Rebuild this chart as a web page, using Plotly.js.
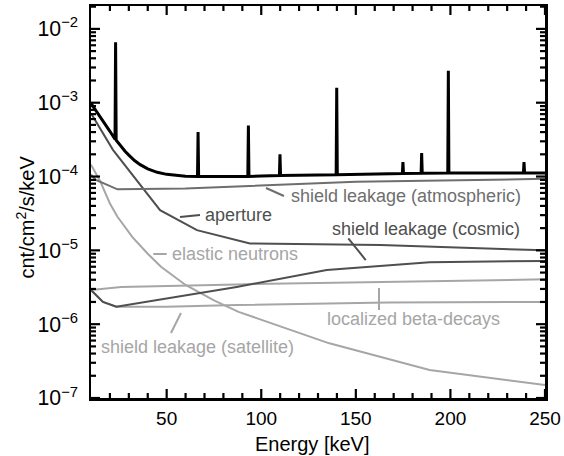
<!DOCTYPE html>
<html><head><meta charset="utf-8">
<script src="https://cdn.plot.ly/plotly-3.0.1.min.js"></script>
<style>html,body{margin:0;padding:0;background:#fff}</style>
</head><body><div id="chart" style="width:564px;height:456px"></div>
<script>
// ---- data ----
const totalE = [10, 14.7, 20, 22.7, 23, 23.3, 26, 28, 30, 33, 36, 40, 45, 50, 60, 66.3, 66.6, 66.9, 80, 92.9, 93.2, 93.5, 100, 109.6, 109.9, 110.2, 139.6, 139.9, 140.2, 160, 174.6, 174.9, 175.2, 184.5, 184.8, 185.1, 198.6, 198.9, 199.2, 220, 238.6, 238.9, 239.2, 250];
const totalFlux = [9.8e-4, 6.6e-4, 4.1e-4, 3.2e-4, 6.6e-3, 3.1e-4, 2.5e-4, 2.2e-4, 1.95e-4, 1.65e-4, 1.45e-4, 1.27e-4, 1.14e-4, 1.07e-4, 1.01e-4, 1.0e-4, 4.0e-4, 1.0e-4, 1.0e-4, 1.0e-4, 4.9e-4, 1.0e-4, 1.02e-4, 1.03e-4, 2.0e-4, 1.03e-4, 1.06e-4, 1.6e-3, 1.06e-4, 1.08e-4, 1.1e-4, 1.57e-4, 1.1e-4, 1.11e-4, 2.08e-4, 1.11e-4, 1.12e-4, 2.7e-3, 1.12e-4, 1.12e-4, 1.12e-4, 1.57e-4, 1.12e-4, 1.12e-4];

const atmE = [10, 12.6, 24, 60, 150, 250];
const atmFlux = [1.06e-4, 9.0e-5, 6.7e-5, 6.9e-5, 8.5e-5, 9.3e-5];

const apertureE = [10, 15, 21.6, 46.5, 66, 94, 163, 250];
const apertureFlux = [7.2e-4, 4.4e-4, 2.3e-4, 3.5e-5, 1.88e-5, 1.24e-5, 1.18e-5, 1.0e-5];

const cosmicE = [10, 16.3, 23.4, 87, 134.6, 168, 189, 250];
const cosmicFlux = [2.9e-6, 2.0e-6, 1.72e-6, 3.2e-6, 5.4e-6, 6.3e-6, 6.9e-6, 7.2e-6];

const elasticE = [10, 15, 20, 24, 32, 40, 47, 60, 75, 88, 136, 189, 250];
const elasticFlux = [1.45e-4, 8.5e-5, 4.3e-5, 2.85e-5, 1.5e-5, 9.0e-6, 6.0e-6, 3.4e-6, 2.1e-6, 1.47e-6, 5.5e-7, 2.4e-7, 1.5e-7];

const betaE = [10, 26, 87, 167, 250];
const betaFlux = [2.9e-6, 3.2e-6, 3.46e-6, 3.75e-6, 4.05e-6];

const satelliteE = [10, 16.3, 23.4, 50, 87, 167, 250];
const satelliteFlux = [2.9e-6, 2.0e-6, 1.72e-6, 1.72e-6, 1.82e-6, 1.97e-6, 2.0e-6];

const labels = ['shield leakage (atmospheric)', 'aperture', 'shield leakage (cosmic)', 'elastic neutrons', 'localized beta-decays', 'shield leakage (satellite)'];
const xTitle = 'Energy [keV]';
const yTitle = 'cnt/cm<sup>2</sup>/s/keV';
const xMajorTicks = [50, 100, 150, 200, 250];
const xMinorTicks = [20, 30, 40, 60, 70, 80, 90, 110, 120, 130, 140, 160, 170, 180, 190, 210, 220, 230, 240];
const yDecades = [-7, -6, -5, -4, -3, -2];
const yMinorMult = [2, 3, 4, 5, 6, 7, 8, 9];

// ---- styling ----
const FONT = 'Liberation Sans, Arial, Helvetica, sans-serif';
const cAtm = '#6e6e6e', cDark = '#4f4f4f', cLight = '#a6a6a6';
const X_RANGE = [10, 250], Y_RANGE = [-7, -1.69];
const PW = 454, PH = 392; // plot area in px
const MAJ = 9, MIN = 5;

function line(x, y, color, width) {
  return {x: x, y: y, type: 'scatter', mode: 'lines', line: {color: color, width: width}, hoverinfo: 'skip', showlegend: false};
}

const data = [
  line(elasticE, elasticFlux, cLight, 2),
  line(betaE, betaFlux, cLight, 2),
  line(satelliteE, satelliteFlux, cLight, 2),
  line(cosmicE, cosmicFlux, cDark, 2),
  line(apertureE, apertureFlux, cDark, 2),
  line(atmE, atmFlux, cAtm, 2),
  line(totalE, totalFlux, '#000000', 3)
];

// label placement (paper coordinates)
const ann = [
  {t: labels[0], x: 0.4370, y: 0.5143, c: cAtm},
  {t: labels[1], x: 0.2470, y: 0.4658, c: cDark},
  {t: labels[2], x: 0.5275, y: 0.4319, c: cDark},
  {t: labels[3], x: 0.1740, y: 0.3681, c: cLight},
  {t: labels[4], x: 0.5150, y: 0.2023, c: cLight},
  {t: labels[5], x: 0.0180, y: 0.1309, c: cLight}
].map(a => ({text: a.t, x: a.x, y: a.y, xref: 'paper', yref: 'paper', xanchor: 'left', yanchor: 'middle',
  showarrow: false, font: {family: FONT, size: 18, color: a.c}}));

ann.push({text: yTitle, textangle: -90, x: -0.144, y: 0.462, xref: 'paper', yref: 'paper',
  xanchor: 'center', yanchor: 'middle', showarrow: false, font: {family: FONT, size: 20, color: '#000'}});
ann.push({text: xTitle, x: 0.488, y: -0.085, xref: 'paper', yref: 'paper',
  xanchor: 'center', yanchor: 'top', showarrow: false, font: {family: FONT, size: 20, color: '#000'}});

const shapes = [
  [0.3855, 0.5357, 0.4251, 0.5153, cAtm],
  [0.1960, 0.4617, 0.2401, 0.4668, cDark],
  [0.5667, 0.4074, 0.6051, 0.3520, cDark],
  [0.1372, 0.3673, 0.1667, 0.3673, cLight],
  [0.6344, 0.2806, 0.6344, 0.2245, cLight],
  [0.1982, 0.2168, 0.1762, 0.1658, cLight]
].map(p => ({type: 'line', xref: 'paper', yref: 'paper', x0: p[0], y0: p[1], x1: p[2], y1: p[3], line: {color: p[4], width: 2}}));

// tick marks (inside, on all four sides) drawn as short lines
function xTick(v, len) {
  const f = (v - X_RANGE[0]) / (X_RANGE[1] - X_RANGE[0]);
  const h = len / PH;
  shapes.push({type: 'line', xref: 'paper', yref: 'paper', x0: f, x1: f, y0: 0, y1: h, line: {color: '#000', width: 2.2}});
  shapes.push({type: 'line', xref: 'paper', yref: 'paper', x0: f, x1: f, y0: 1, y1: 1 - h, line: {color: '#000', width: 2.2}});
}
function yTick(v, len) {
  const f = (Math.log10(v) - Y_RANGE[0]) / (Y_RANGE[1] - Y_RANGE[0]);
  if (f < 0 || f > 1) return;
  const w = len / PW;
  shapes.push({type: 'line', xref: 'paper', yref: 'paper', x0: 0, x1: w, y0: f, y1: f, line: {color: '#000', width: 2.2}});
  shapes.push({type: 'line', xref: 'paper', yref: 'paper', x0: 1, x1: 1 - w, y0: f, y1: f, line: {color: '#000', width: 2.2}});
}
xMajorTicks.forEach(v => xTick(v, MAJ));
xMinorTicks.forEach(v => xTick(v, MIN));
yDecades.forEach(d => {
  yTick(Math.pow(10, d), MAJ);
  yMinorMult.forEach(m => yTick(m * Math.pow(10, d), MIN));
});

const axisCommon = {
  showgrid: false, zeroline: false, showline: true, linecolor: '#000', linewidth: 2.5,
  mirror: true, ticks: '', fixedrange: true
};

const layout = {
  width: 564, height: 456,
  margin: {l: 91, r: 19, t: 6, b: 58, pad: 0},
  paper_bgcolor: '#fff', plot_bgcolor: '#fff',
  font: {family: FONT, color: '#000'},
  xaxis: Object.assign({}, axisCommon, {
    range: X_RANGE, tickmode: 'array', tickvals: xMajorTicks,
    tickfont: {family: FONT, size: 19, color: '#000'}, ticklabelstandoff: 2
  }),
  yaxis: Object.assign({}, axisCommon, {
    type: 'log', range: Y_RANGE, tickmode: 'linear', tick0: 0, dtick: 1,
    exponentformat: 'power', showexponent: 'all',
    tickfont: {family: FONT, size: 17, color: '#000'}, ticklabelstandoff: 7
  }),
  annotations: ann,
  shapes: shapes
};

Plotly.newPlot('chart', data, layout, {displayModeBar: false, staticPlot: true});
</script>
</body></html>
